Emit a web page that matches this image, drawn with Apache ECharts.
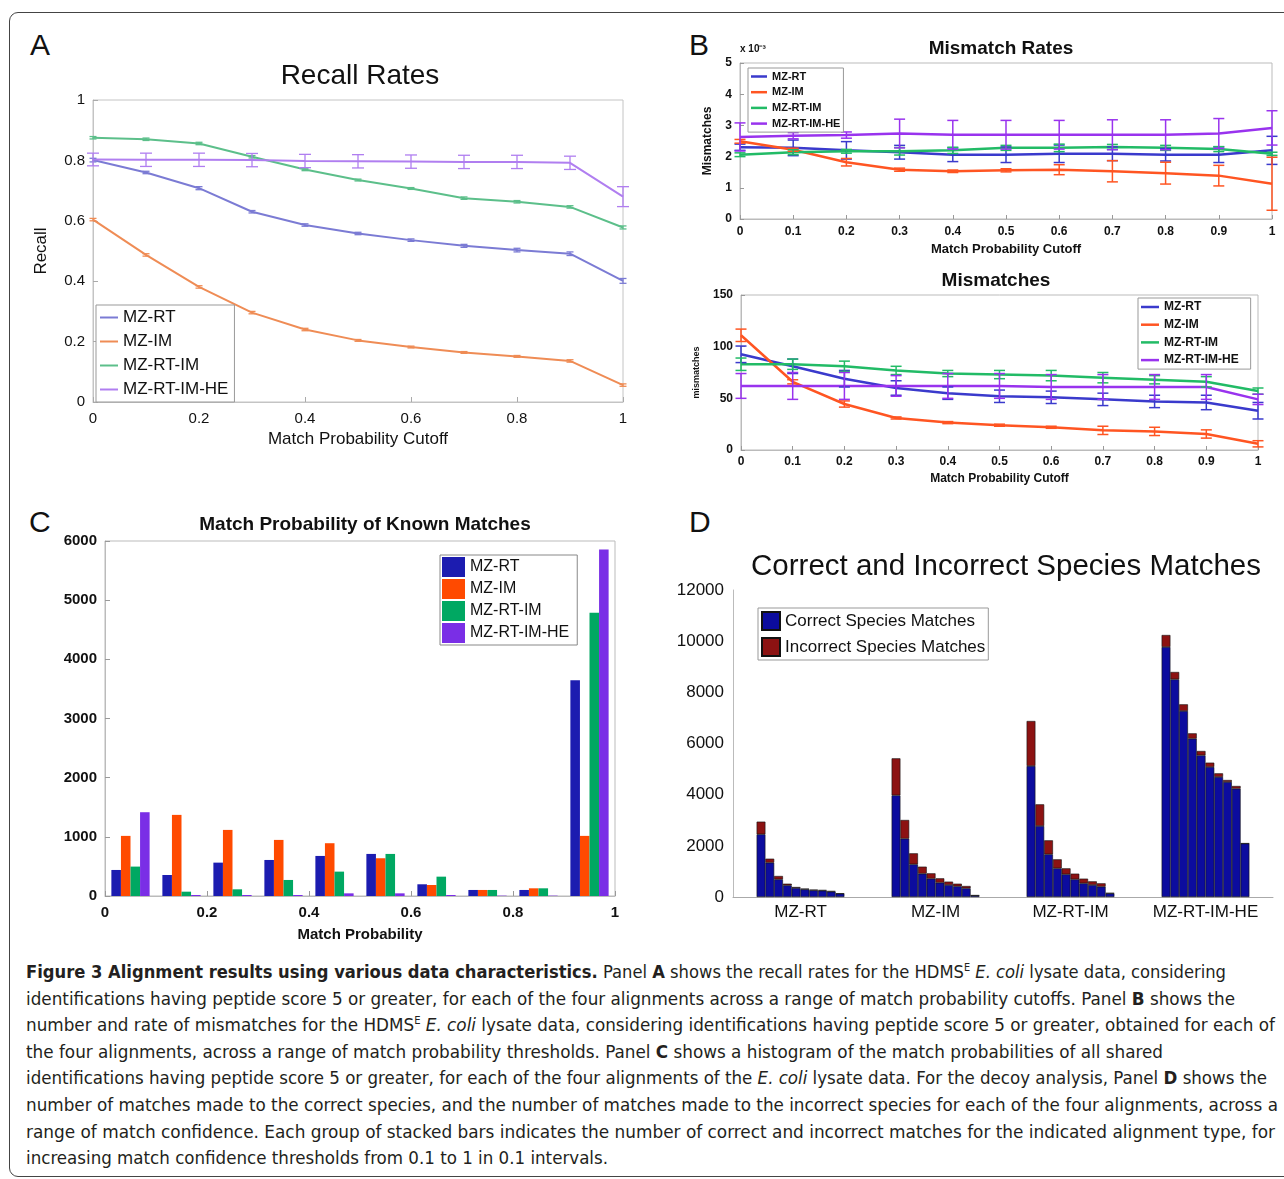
<!DOCTYPE html>
<html>
<head>
<meta charset="utf-8">
<title>Figure 3</title>
<script src="https://cdn.jsdelivr.net/npm/echarts@6/dist/echarts.min.js"></script>
<style>
    body { margin: 0; background: #fff; }
    #page { position: relative; width: 1284px; height: 1179px; overflow: hidden; font-family: "Liberation Sans", Arial, sans-serif; }
    .frame { position: absolute; left: 9px; top: 12px; width: 1300px; height: 1163px; border: 1.5px solid #444; border-radius: 9px; }
    .letter { position: absolute; font-size: 30px; line-height: 30px; color: #111; }
    .panel { position: absolute; }
    #caption { position: absolute; left: 26px; top: 959px; font-family: "Liberation Sans Narrow", "DejaVu Sans Condensed", "Liberation Sans", sans-serif; font-size: 18.5px; line-height: 26.6px; color: #231f20; }
    #caption div { white-space: nowrap; transform-origin: 0 0; width: max-content; }
    #caption sup { font-size: 11px; line-height: 0; vertical-align: 7px; }
</style>
</head>
<body>
<div id="page">
    <div class="frame"></div>
    <div class="letter" style="left:30px;top:30px">A</div>
    <div class="letter" style="left:689px;top:30px">B</div>
    <div class="letter" style="left:29px;top:507px">C</div>
    <div class="letter" style="left:689px;top:507px">D</div>
    <div id="chartA" class="panel" style="left:0;top:0;width:660px;height:470px"></div>
    <div id="chartB" class="panel" style="left:660px;top:0;width:624px;height:495px"></div>
    <div id="chartC" class="panel" style="left:0;top:495px;width:660px;height:455px"></div>
    <div id="chartD" class="panel" style="left:660px;top:495px;width:624px;height:455px"></div>
    <div id="caption">
        <div data-w="1200"><b>Figure 3 Alignment results using various data characteristics.</b> Panel <b>A</b> shows the recall rates for the HDMS<sup>E</sup> <i>E. coli</i> lysate data, considering</div>
        <div data-w="1209">identifications having peptide score 5 or greater, for each of the four alignments across a range of match probability cutoffs. Panel <b>B</b> shows the</div>
        <div data-w="1249">number and rate of mismatches for the HDMS<sup>E</sup> <i>E. coli</i> lysate data, considering identifications having peptide score 5 or greater, obtained for each of</div>
        <div data-w="1137">the four alignments, across a range of match probability thresholds. Panel <b>C</b> shows a histogram of the match probabilities of all shared</div>
        <div data-w="1241">identifications having peptide score 5 or greater, for each of the four alignments of the <i>E. coli</i> lysate data. For the decoy analysis, Panel <b>D</b> shows the</div>
        <div data-w="1252">number of matches made to the correct species, and the number of matches made to the incorrect species for each of the four alignments, across a</div>
        <div data-w="1249">range of match confidence. Each group of stacked bars indicates the number of correct and incorrect matches for the indicated alignment type, for</div>
        <div data-w="582">increasing match confidence thresholds from 0.1 to 1 in 0.1 intervals.</div>
    </div>
</div>
<script type="text/javascript">
    var names = ['MZ-RT', 'MZ-IM', 'MZ-RT-IM', 'MZ-RT-IM-HE'];
    var cutoffs = [0, 0.1, 0.2, 0.3, 0.4, 0.5, 0.6, 0.7, 0.8, 0.9, 1];

    // panel A - recall
    var recallMzRt = [0.801, 0.760, 0.708, 0.630, 0.586, 0.558, 0.536, 0.517, 0.503, 0.491, 0.401];
    var recallMzIm = [0.604, 0.487, 0.381, 0.296, 0.240, 0.204, 0.182, 0.164, 0.151, 0.136, 0.056];
    var recallMzRtIm = [0.875, 0.870, 0.856, 0.812, 0.770, 0.735, 0.707, 0.675, 0.663, 0.646, 0.578];
    var recallMzRtImHe = [0.803, 0.802, 0.802, 0.801, 0.798, 0.797, 0.796, 0.795, 0.795, 0.792, 0.680];
    var recallErrMzRt = [0.006, 0.004, 0.005, 0.004, 0.004, 0.004, 0.004, 0.005, 0.006, 0.006, 0.008];
    var recallErrMzIm = [0.004, 0.004, 0.004, 0.004, 0.004, 0.003, 0.003, 0.003, 0.003, 0.004, 0.004];
    var recallErrMzRtIm = [0.004, 0.004, 0.004, 0.004, 0.004, 0.003, 0.003, 0.004, 0.004, 0.004, 0.005];
    var recallErrMzRtImHe = [0.021, 0.022, 0.022, 0.022, 0.022, 0.022, 0.022, 0.022, 0.022, 0.022, 0.033];

    // panel B top - mismatch rates (x 10^-3)
    var rateMzRt = [2.30, 2.28, 2.20, 2.14, 2.06, 2.06, 2.09, 2.09, 2.06, 2.06, 2.20];
    var rateMzIm = [2.49, 2.22, 1.82, 1.58, 1.53, 1.56, 1.58, 1.53, 1.47, 1.39, 1.13];
    var rateMzRtIm = [2.06, 2.14, 2.17, 2.17, 2.20, 2.28, 2.28, 2.31, 2.28, 2.24, 2.09];
    var rateMzRtImHe = [2.63, 2.67, 2.69, 2.74, 2.70, 2.70, 2.70, 2.70, 2.70, 2.74, 2.92];
    var rateErrMzRt = [0.10, 0.25, 0.28, 0.22, 0.22, 0.25, 0.28, 0.22, 0.20, 0.25, 0.45];
    var rateErrMzIm = [0.06, 0.05, 0.12, 0.05, 0.04, 0.05, 0.16, 0.34, 0.35, 0.33, 0.85];
    var rateErrMzRtIm = [0.06, 0.08, 0.06, 0.12, 0.10, 0.08, 0.12, 0.08, 0.08, 0.08, 0.05];
    var rateErrMzRtImHe = [0.45, 0.10, 0.10, 0.46, 0.46, 0.46, 0.46, 0.48, 0.48, 0.48, 0.55];

    // panel B bottom - mismatches
    var misMzRt = [92.6, 81, 69, 60, 55, 52, 51, 49, 47, 46, 38];
    var misMzIm = [111, 66, 44.5, 31, 26.5, 24, 22, 19, 18, 15.5, 6];
    var misMzRtIm = [83, 83, 81, 77, 74, 73, 72, 70, 68, 66, 57];
    var misMzRtImHe = [62, 62, 62, 62, 62, 62, 61, 61, 61, 61, 49];
    var misErrMzRt = [8, 7, 8, 7, 6, 6, 6, 6, 6, 7, 8];
    var misErrMzIm = [6, 2, 3, 1, 1, 1, 1, 4, 4, 4, 3];
    var misErrMzRtIm = [6, 5, 5, 4, 3, 4, 5, 5, 4, 5, 3];
    var misErrMzRtImHe = [12, 13, 13, 10, 12, 12, 12, 12, 12, 12, 5];

    // panel C - histogram
    var histBins = ['0-0.1', '0.1-0.2', '0.2-0.3', '0.3-0.4', '0.4-0.5', '0.5-0.6', '0.6-0.7', '0.7-0.8', '0.8-0.9', '0.9-1'];
    var histMzRt = [440, 355, 564, 609, 677, 711, 198, 102, 102, 3646];
    var histMzIm = [1016, 1371, 1117, 948, 892, 638, 186, 102, 130, 1016];
    var histMzRtIm = [497, 73, 113, 271, 412, 711, 327, 102, 130, 4786];
    var histMzRtImHe = [1416, 17, 17, 17, 45, 45, 17, 6, 6, 5858];

    // panel D - species matches, thresholds 0.1 .. 1
    var correctMzRt = [2450, 1342, 690, 456, 352, 300, 260, 248, 209, 130];
    var incorrectMzRt = [495, 156, 131, 65, 39, 26, 27, 26, 26, 13];
    var correctMzIm = [3974, 2280, 1277, 912, 717, 560, 469, 417, 339, 60];
    var incorrectMzIm = [1446, 730, 430, 274, 208, 170, 131, 104, 91, 5];
    var correctMzRtIm = [5121, 2775, 1668, 1120, 886, 690, 534, 469, 404, 140];
    var incorrectMzRtIm = [1758, 847, 547, 352, 234, 222, 183, 143, 130, 16];
    var correctMzRtImHe = [9772, 8508, 7270, 6189, 5537, 5081, 4691, 4495, 4235, 2090];
    var incorrectMzRtImHe = [469, 287, 261, 208, 170, 170, 143, 78, 104, 8];

    var FONT = '"Liberation Sans", Arial, sans-serif';
    var colorsA = ['#7b7bd4', '#ef8c55', '#5cbf8a', '#b07ef0'];
    var colorsB = ['#3a3acc', '#ff5522', '#22bb66', '#9933ee'];
    var colorsC = ['#1c1cb0', '#ff4a00', '#00a862', '#7a2ee6'];

    function errBars(capW, lw) {
        return function (params, api) {
            var x = api.value(0);
            var top = api.coord([x, api.value(2)]);
            var bot = api.coord([x, api.value(1)]);
            var st = { stroke: api.visual('color'), lineWidth: lw };
            return {
                type: 'group',
                children: [
                    { type: 'line', shape: { x1: top[0], y1: top[1], x2: bot[0], y2: bot[1] }, style: st },
                    { type: 'line', shape: { x1: top[0] - capW / 2, y1: top[1], x2: top[0] + capW / 2, y2: top[1] }, style: st },
                    { type: 'line', shape: { x1: bot[0] - capW / 2, y1: bot[1], x2: bot[0] + capW / 2, y2: bot[1] }, style: st }
                ]
            };
        };
    }

    function lineSeries(name, color, ys, width, axis) {
        return {
            name: name, type: 'line', xAxisIndex: axis, yAxisIndex: axis,
            data: cutoffs.map(function (x, i) { return [x, ys[i]]; }),
            showSymbol: false, silent: true, animation: false,
            itemStyle: { color: color },
            lineStyle: { color: color, width: width }, z: 2
        };
    }

    function errSeries(name, color, ys, errs, capW, lw, axis) {
        return {
            name: name, type: 'custom', xAxisIndex: axis, yAxisIndex: axis,
            data: cutoffs.map(function (x, i) { return [x, ys[i] - errs[i], ys[i] + errs[i]]; }),
            encode: { x: 0, y: [1, 2] },
            itemStyle: { color: color }, silent: true, animation: false, z: 3,
            renderItem: errBars(capW, lw)
        };
    }

    function plain(v) { return String(v); }

    // ---------- A ----------
    var chartA = echarts.init(document.getElementById('chartA'));
    var seriesA = [];
    var recallSets = [recallMzRt, recallMzIm, recallMzRtIm, recallMzRtImHe];
    var recallErrs = [recallErrMzRt, recallErrMzIm, recallErrMzRtIm, recallErrMzRtImHe];
    names.forEach(function (n, k) { seriesA.push(lineSeries(n, colorsA[k], recallSets[k], 2, 0)); });
    names.forEach(function (n, k) { seriesA.push(errSeries(n, colorsA[k], recallSets[k], recallErrs[k], k == 3 ? 12 : 7, 1.3, 0)); });
    chartA.setOption({
        animation: false,
        textStyle: { fontFamily: FONT },
        title: { text: 'Recall Rates', left: 355, top: 57, textAlign: 'center',
            textStyle: { fontSize: 28, fontWeight: 'normal', color: '#111', fontFamily: FONT } },
        grid: { left: 93, top: 100, width: 530, height: 302, show: true, borderColor: '#c4c4c4', borderWidth: 1, outerBoundsMode: 'none' },
        legend: {
            data: names, orient: 'vertical', left: 96, top: 305, icon: 'rect', itemWidth: 18, itemHeight: 2,
            itemGap: 7, padding: [4, 6, 4, 4], borderColor: '#999', borderWidth: 1, backgroundColor: '#fff',
            textStyle: { fontSize: 17, color: '#111', fontFamily: FONT, lineHeight: 17 }
        },
        xAxis: {
            type: 'value', min: 0, max: 1, interval: 0.2,
            name: 'Match Probability Cutoff', nameLocation: 'middle', nameGap: 29,
            nameTextStyle: { fontSize: 17, color: '#111' },
            axisLine: { lineStyle: { color: '#c4c4c4' } },
            axisTick: { inside: true, length: 5, lineStyle: { color: '#aaa' } },
            axisLabel: { fontSize: 15, color: '#111', margin: 9 },
            splitLine: { show: false }
        },
        yAxis: {
            type: 'value', min: 0, max: 1, interval: 0.2,
            name: 'Recall', nameLocation: 'middle', nameGap: 43,
            nameTextStyle: { fontSize: 17, color: '#111' },
            axisLine: { show: true, lineStyle: { color: '#c4c4c4' } },
            axisTick: { show: true, inside: true, length: 5, lineStyle: { color: '#aaa' } },
            axisLabel: { fontSize: 15, color: '#111', margin: 8 },
            splitLine: { show: false }
        },
        series: seriesA
    });

    // ---------- B ----------
    var chartB = echarts.init(document.getElementById('chartB'));
    var seriesB = [];
    var rateSets = [rateMzRt, rateMzIm, rateMzRtIm, rateMzRtImHe];
    var rateErrs = [rateErrMzRt, rateErrMzIm, rateErrMzRtIm, rateErrMzRtImHe];
    var misSets = [misMzRt, misMzIm, misMzRtIm, misMzRtImHe];
    var misErrs = [misErrMzRt, misErrMzIm, misErrMzRtIm, misErrMzRtImHe];
    names.forEach(function (n, k) { seriesB.push(lineSeries(n, colorsB[k], rateSets[k], 2.5, 0)); });
    names.forEach(function (n, k) { seriesB.push(lineSeries(n, colorsB[k], misSets[k], 2.5, 1)); });
    names.forEach(function (n, k) { seriesB.push(errSeries(n, colorsB[k], rateSets[k], rateErrs[k], 11, 1.5, 0)); });
    names.forEach(function (n, k) { seriesB.push(errSeries(n, colorsB[k], misSets[k], misErrs[k], 11, 1.5, 1)); });

    function axisB(max, interval, name, nameGap, nameSize, labelMargin) {
        return {
            type: 'value', min: 0, max: max, interval: interval,
            name: name, nameLocation: 'middle', nameGap: nameGap,
            nameTextStyle: { fontSize: nameSize, color: '#111', fontWeight: 'bold' },
            axisLine: { show: true, lineStyle: { color: '#bbb' } },
            axisTick: { show: true, inside: true, length: 4, lineStyle: { color: '#999' } },
            axisLabel: { fontSize: 12, color: '#111', fontWeight: 'bold', margin: labelMargin },
            splitLine: { show: false }
        };
    }
    var bx0 = axisB(1, 0.1, 'Match Probability Cutoff', 24, 13, 7); bx0.gridIndex = 0;
    var bx1 = axisB(1, 0.1, 'Match Probability Cutoff', 23, 12, 6); bx1.gridIndex = 1;
    var by0 = axisB(5, 1, 'Mismatches', 26, 12, 8); by0.gridIndex = 0;
    var by1 = axisB(150, 50, 'mismatches', 40, 9, 8); by1.gridIndex = 1;

    chartB.setOption({
        animation: false,
        textStyle: { fontFamily: FONT },
        title: [
            { text: 'Mismatch Rates', left: 336, top: 34, textAlign: 'center',
                textStyle: { fontSize: 19, fontWeight: 'bold', color: '#111', fontFamily: FONT } },
            { text: 'Mismatches', left: 331, top: 266, textAlign: 'center',
                textStyle: { fontSize: 19, fontWeight: 'bold', color: '#111', fontFamily: FONT } }
        ],
        graphic: [
            { type: 'text', left: 80, top: 44, style: { text: 'x 10⁻³', fontSize: 10, fontWeight: 'bold', fill: '#111', fontFamily: FONT } }
        ],
        grid: [
            { left: 80, top: 63, width: 532, height: 156, show: true, borderColor: '#bbb', borderWidth: 1, outerBoundsMode: 'none' },
            { left: 81, top: 295, width: 517, height: 155, show: true, borderColor: '#bbb', borderWidth: 1, outerBoundsMode: 'none' }
        ],
        legend: [
            { data: names, orient: 'vertical', left: 88, top: 68, icon: 'rect', itemWidth: 16, itemHeight: 2.5,
                itemGap: 4.7, padding: 3, borderColor: '#999', borderWidth: 1, backgroundColor: '#fff',
                textStyle: { fontSize: 11, fontWeight: 'bold', color: '#111', fontFamily: FONT, lineHeight: 11 } },
            { data: names, orient: 'vertical', left: 478, top: 298, icon: 'rect', itemWidth: 18, itemHeight: 2.5,
                itemGap: 5.7, padding: [3, 12, 3, 3], borderColor: '#999', borderWidth: 1, backgroundColor: '#fff',
                textStyle: { fontSize: 12, fontWeight: 'bold', color: '#111', fontFamily: FONT, lineHeight: 12 } }
        ],
        xAxis: [bx0, bx1],
        yAxis: [by0, by1],
        series: seriesB
    });

    // ---------- C ----------
    var chartC = echarts.init(document.getElementById('chartC'));
    var histSets = [histMzRt, histMzIm, histMzRtIm, histMzRtImHe];
    chartC.setOption({
        animation: false,
        textStyle: { fontFamily: FONT },
        title: { text: 'Match Probability of Known Matches', left: 360, top: 15, textAlign: 'center',
            textStyle: { fontSize: 19, fontWeight: 'bold', color: '#111', fontFamily: FONT } },
        grid: { left: 105, top: 46, width: 510, height: 355, show: true, borderColor: '#bbb', borderWidth: 1, outerBoundsMode: 'none' },
        legend: {
            data: names, orient: 'vertical', left: 440, top: 60, icon: 'rect', itemWidth: 23, itemHeight: 20,
            itemGap: 2, padding: [2, 8, 2, 2], borderColor: '#888', borderWidth: 1, backgroundColor: '#fff',
            textStyle: { fontSize: 16, color: '#111', fontFamily: FONT }
        },
        xAxis: [
            { type: 'category', data: histBins, show: false },
            { type: 'value', min: 0, max: 1, interval: 0.2, position: 'bottom', offset: 0,
                name: 'Match Probability', nameLocation: 'middle', nameGap: 31,
                nameTextStyle: { fontSize: 15, fontWeight: 'bold', color: '#111' },
                axisLine: { show: true, lineStyle: { color: '#bbb' } },
                axisTick: { show: true, inside: true, length: 5, lineStyle: { color: '#999' } },
                axisLabel: { fontSize: 15, fontWeight: 'bold', color: '#111', margin: 9 },
                splitLine: { show: false } }
        ],
        yAxis: {
            type: 'value', min: 0, max: 6000, interval: 1000,
            axisLine: { show: true, lineStyle: { color: '#bbb' } },
            axisTick: { show: true, inside: true, length: 5, lineStyle: { color: '#999' } },
            axisLabel: { fontSize: 15, fontWeight: 'bold', color: '#111', margin: 8, formatter: plain },
            splitLine: { show: false }
        },
        series: names.map(function (n, k) {
            return { name: n, type: 'bar', xAxisIndex: 0, data: histSets[k], barGap: '0%', barCategoryGap: '25%',
                itemStyle: { color: colorsC[k] }, silent: true };
        })
    });

    // ---------- D ----------
    var chartD = echarts.init(document.getElementById('chartD'));
    var correctSets = [correctMzRt, correctMzIm, correctMzRtIm, correctMzRtImHe];
    var incorrectSets = [incorrectMzRt, incorrectMzIm, incorrectMzRtIm, incorrectMzRtImHe];
    var seriesD = [];
    for (var t = 0; t < 10; t++) {
        seriesD.push({ name: 'Correct Species Matches', type: 'bar', stack: 's' + t,
            data: correctSets.map(function (a) { return a[t]; }),
            barGap: '0%', barCategoryGap: '35%', silent: true,
            itemStyle: { color: '#0c0c9e', borderColor: '#111', borderWidth: 0.6 } });
        seriesD.push({ name: 'Incorrect Species Matches', type: 'bar', stack: 's' + t,
            data: incorrectSets.map(function (a) { return a[t]; }),
            barGap: '0%', barCategoryGap: '35%', silent: true,
            itemStyle: { color: '#8c1212', borderColor: '#111', borderWidth: 0.6 } });
    }
    chartD.setOption({
        animation: false,
        textStyle: { fontFamily: FONT },
        title: { text: 'Correct and Incorrect Species Matches', left: 341, top: 52, textAlign: 'center',
            textStyle: { fontSize: 29.5, fontWeight: 'normal', color: '#111', fontFamily: FONT } },
        grid: { left: 73, top: 95, width: 540, height: 307, outerBoundsMode: 'none' },
        legend: {
            data: ['Correct Species Matches', 'Incorrect Species Matches'], orient: 'vertical', left: 98, top: 113,
            icon: 'rect', itemWidth: 18, itemHeight: 18, itemGap: 6, padding: 3,
            borderColor: '#999', borderWidth: 1, backgroundColor: '#fff',
            textStyle: { fontSize: 17, color: '#111', fontFamily: FONT }
        },
        xAxis: {
            type: 'category', data: names,
            axisLine: { lineStyle: { color: '#aaa' } },
            axisTick: { show: false },
            axisLabel: { fontSize: 17, color: '#111', margin: 7, interval: 0 }
        },
        yAxis: {
            type: 'value', min: 0, max: 12000, interval: 2000,
            axisLine: { show: true, lineStyle: { color: '#bbb' } },
            axisTick: { show: false },
            axisLabel: { fontSize: 17, color: '#111', margin: 9, formatter: plain },
            splitLine: { show: false }
        },
        series: seriesD
    });

    // fit caption lines to their original widths
    var lines = document.querySelectorAll('#caption div');
    for (var i = 0; i < lines.length; i++) {
        var w = lines[i].getBoundingClientRect().width;
        var target = parseFloat(lines[i].getAttribute('data-w'));
        lines[i].style.transform = 'scaleX(' + (target / w) + ')';
    }
</script>
</body>
</html>
